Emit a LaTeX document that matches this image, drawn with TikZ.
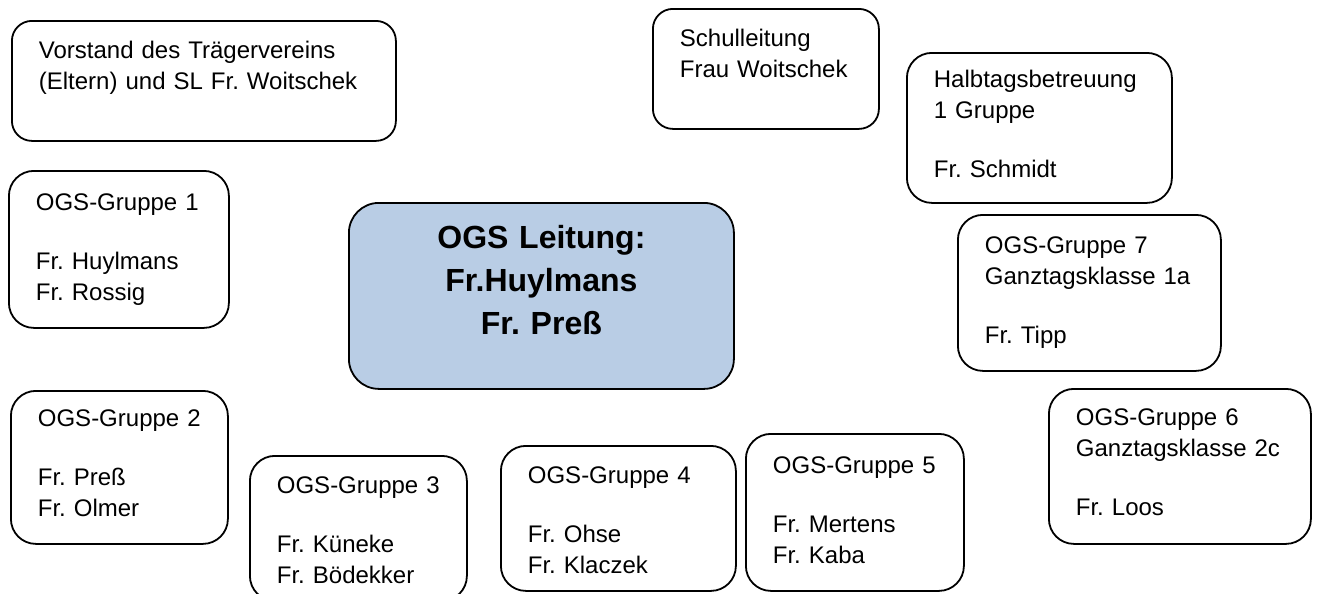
\documentclass[tikz,border=0pt]{standalone}
\usepackage{fontspec}
\setmainfont{Liberation Sans}
\definecolor{leitblau}{HTML}{B9CDE5}

\begin{document}
\frenchspacing
\begin{tikzpicture}[x=0.5pt, y=-0.5pt,
    grp/.style={draw, black, line width=0.9pt, rounded corners=12.5pt, anchor=north west,
      align=left, inner xsep=13.5pt, inner ysep=0pt, text height=19pt,
      font=\fontsize{12}{15.5}\selectfont},
    top/.style={grp, rounded corners=10pt},
    leit/.style={grp, rounded corners=15pt, fill=leitblau, align=center,
      font=\fontsize{16}{21.5}\selectfont\bfseries}]
    \useasboundingbox (0,0) rectangle (1318,594);

    \node[top, text width=165pt, text depth=41pt] (vorstand) at (11,20)
      {Vorstand des Trägervereins\\(Eltern) und SL Fr. Woitschek};
    \node[top, text width=86pt, text depth=41pt] (sl) at (652,8)
      {Schulleitung\\Frau Woitschek};
    \node[grp, text width=105.5pt, text height=17.5pt, text depth=57.5pt] (halb) at (906,52)
      {Halbtagsbetreuung\\1 Gruppe\\[14pt]Fr. Schmidt};

    \node[leit, text width=165.5pt, text height=23pt, text depth=70pt] (leitung) at (348,202)
      {OGS Leitung:\\Fr.Huylmans\\Fr. Preß};

    \node[grp, text width=83pt, text height=20pt, text depth=58.5pt] (g1) at (8,170)
      {OGS-Gruppe 1\\[14pt]Fr. Huylmans\\Fr. Rossig};
    \node[grp, text width=81.5pt, text height=18pt, text depth=58.5pt] (g2) at (10,390)
      {OGS-Gruppe 2\\[14pt]Fr. Preß\\Fr. Olmer};
    \node[grp, text width=81.5pt, text depth=53.5pt] (g3) at (249,455)
      {OGS-Gruppe 3\\[14pt]Fr. Küneke\\Fr. Bödekker};
    \node[grp, text width=90.5pt, text depth=53.5pt] (g4) at (500,445)
      {OGS-Gruppe 4\\[14pt]Fr. Ohse\\Fr. Klaczek};
    \node[grp, text width=82pt, text height=20pt, text depth=58.5pt] (g5) at (745,433)
      {OGS-Gruppe 5\\[14pt]Fr. Mertens\\Fr. Kaba};
    \node[grp, text width=104pt, text height=18.5pt, text depth=59pt] (g6) at (1048,388)
      {OGS-Gruppe 6\\Ganztagsklasse 2c\\[14pt]Fr. Loos};
    \node[grp, text width=104.5pt, text height=19.5pt, text depth=58.5pt] (g7) at (957,214)
      {OGS-Gruppe 7\\Ganztagsklasse 1a\\[14pt]Fr. Tipp};

\end{tikzpicture}
\end{document}
